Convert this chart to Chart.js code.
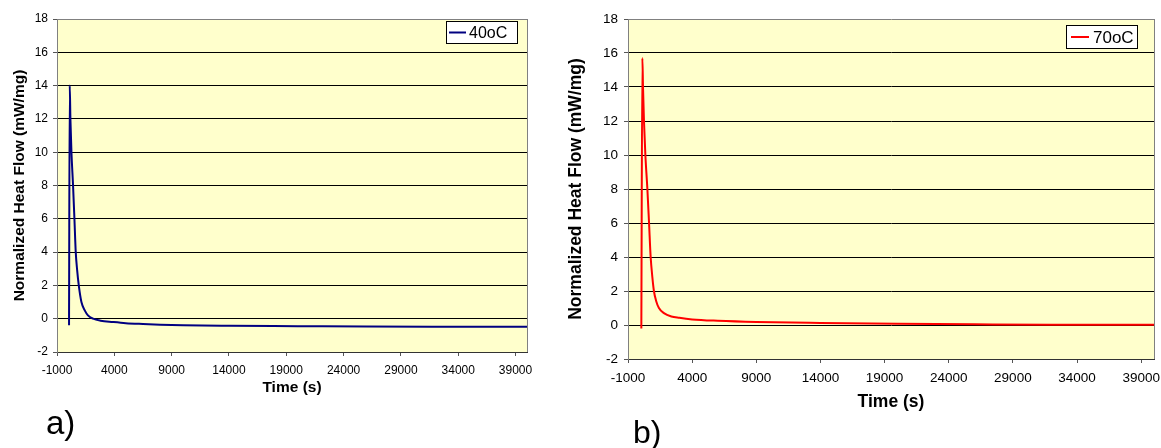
<!DOCTYPE html>
<html>
<head>
<meta charset="utf-8">
<script src="https://cdn.jsdelivr.net/npm/chart.js@4.4.0/dist/chart.umd.min.js"></script>
<style>
body { margin:0; background:#fff; width:1161px; height:448px; overflow:hidden; position:relative; font-family: Arial, "Liberation Sans", sans-serif; }
.box { position:absolute; top:0; height:448px; }
#wrapA { left:0; width:560px; }
#wrapB { left:560px; width:601px; }
.tag { position:absolute; color:#000; line-height:1; }
</style>
</head>
<body>
<div class="box" id="wrapA"><canvas id="chartA"></canvas></div>
<div class="box" id="wrapB"><canvas id="chartB"></canvas></div>
<div class="tag" style="left:46px;top:406px;font-size:33px">a)</div>
<div class="tag" style="left:633px;top:416px;font-size:32px">b)</div>
<script>
// tick labels on the time axis
var timeTicks = [-1000, 4000, 9000, 14000, 19000, 24000, 29000, 34000, 39000];

// 40oC run (time in s, heat flow in mW/mg)
var time40 = [50, 110, 170, 260, 400, 520, 635, 760, 900, 1130, 1420, 1700, 2150, 2800, 3870, 5000, 6500, 8000, 10000, 14000, 20000, 26000, 32000, 40000];
var flow40 = [-0.4, 14, 12, 10, 8, 6, 4, 2.9, 2, 1, 0.5, 0.2, 0, -0.12, -0.2, -0.27, -0.32, -0.36, -0.4, -0.43, -0.45, -0.47, -0.48, -0.48];

// 70oC run
var time70 = [40, 120, 170, 245, 354, 510, 640, 766, 900, 1020, 1200, 1410, 1800, 2380, 3000, 4000, 6000, 9000, 14000, 20000, 26000, 32000, 40000];
var flow70 = [-0.2, 15.7, 14, 12, 10, 8, 6, 4, 2.8, 2, 1.4, 1, 0.7, 0.5, 0.42, 0.33, 0.25, 0.18, 0.12, 0.07, 0.04, 0.02, 0.02];

var FONT = 'Arial, "Liberation Sans", sans-serif';

var bgPlugin = {
	id: 'bg',
	beforeDraw: function(chart) {
		var a = chart.chartArea, ctx = chart.ctx;
		ctx.save();
		ctx.fillStyle = '#FFFFCC';
		ctx.fillRect(a.left, a.top, a.right - a.left, a.bottom - a.top);
		ctx.restore();
	},
	afterDraw: function(chart) {
		var a = chart.chartArea, ctx = chart.ctx;
		ctx.save();
		ctx.strokeStyle = '#808080';
		ctx.lineWidth = 1;
		ctx.beginPath();
		ctx.moveTo(Math.round(a.right) + 0.5, a.top);
		ctx.lineTo(Math.round(a.right) + 0.5, a.bottom);
		ctx.stroke();
		ctx.restore();
	}
};

var boxLegend = {
	id: 'boxLegend',
	afterDraw: function(chart, args, o) {
		var ctx = chart.ctx, a = chart.chartArea, ds = chart.data.datasets[0];
		var x = Math.round(a.right - o.right - o.w), y = Math.round(a.top + o.top);
		ctx.save();
		ctx.fillStyle = '#fff';
		ctx.fillRect(x, y, o.w, o.h);
		ctx.strokeStyle = '#000';
		ctx.lineWidth = 1;
		ctx.strokeRect(x + 0.5, y + 0.5, o.w - 1, o.h - 1);
		ctx.strokeStyle = ds.borderColor;
		ctx.lineWidth = 2;
		ctx.beginPath();
		ctx.moveTo(x + o.lx0, y + o.h / 2);
		ctx.lineTo(x + o.lx1, y + o.h / 2);
		ctx.stroke();
		ctx.fillStyle = '#000';
		ctx.font = o.size + 'px ' + FONT;
		ctx.textBaseline = 'middle';
		ctx.fillText(ds.label, x + o.tx, y + o.h / 2 + 1);
		ctx.restore();
	}
};

function makeChart(id, times, flows, label, color, s) {
	var pts = [];
	for (var i in times) {
		pts.push({x: times[i], y: flows[i]});
	}
	return new Chart(document.getElementById(id), {
		type: 'line',
		data: {
			datasets: [{
				label: label,
				data: pts,
				borderColor: color,
				backgroundColor: color,
				borderWidth: 2,
				pointRadius: 0,
				cubicInterpolationMode: 'monotone'
			}]
		},
		plugins: [bgPlugin, boxLegend],
		options: {
			responsive: true,
			maintainAspectRatio: false,
			animation: false,
			layout: { padding: { top: 19, right: s.padRight, bottom: s.padBottom, left: 0 } },
			plugins: {
				legend: { display: false },
				tooltip: { enabled: false },
				boxLegend: s.legend
			},
			scales: {
				x: {
					type: 'linear',
					min: -1000,
					max: 40000,
					afterBuildTicks: function(scale) {
						scale.ticks = timeTicks.map(function(v) { return {value: v}; });
					},
					afterFit: function(scale) {
						scale.height = s.xHeight;
						scale.paddingLeft = 0;
						scale.paddingRight = 0;
					},
					grid: { drawOnChartArea: false, drawTicks: true, tickLength: 4, color: '#555' },
					border: { color: '#333', width: 1 },
					ticks: {
						color: '#000',
						padding: s.xPad,
						maxRotation: 0,
						autoSkip: false,
						font: { family: FONT, size: s.tick },
						callback: function(v) { return String(v); }
					},
					title: {
						display: true,
						text: 'Time (s)',
						color: '#000',
						padding: { top: 0, bottom: 0 },
						font: { family: FONT, size: s.title, weight: 'bold' }
					}
				},
				y: {
					min: -2,
					max: 18,
					ticks: {
						stepSize: 2,
						color: '#000',
						padding: s.yPad,
						font: { family: FONT, size: s.tick }
					},
					afterFit: function(scale) {
						scale.width = s.yWidth;
						scale.paddingTop = 0;
						scale.paddingBottom = 0;
					},
					grid: {
						tickLength: 4,
						color: function(c) { return c.tick && c.tick.value === 18 ? '#808080' : '#000'; },
						tickColor: '#555'
					},
					border: { color: '#808080', width: 1 },
					title: {
						display: true,
						text: 'Normalized Heat Flow (mW/mg)',
						color: '#000',
						padding: { top: s.yTitlePad, bottom: 0 },
						font: { family: FONT, size: s.title, weight: 'bold' }
					}
				}
			}
		}
	});
}

makeChart('chartA', time40, flow40, '40oC', '#000080', {
	padRight: 33, padBottom: 50.7, xHeight: 45.3, yWidth: 57,
	tick: 12, title: 15.5, xPad: 7, yPad: 5, yTitlePad: 10,
	legend: { w: 72, h: 23, right: 9, top: 2, lx0: 3, lx1: 20, tx: 23, size: 16 }
});

makeChart('chartB', time70, flow70, '70oC', '#FF0000', {
	padRight: 7, padBottom: 35.5, xHeight: 53.5, yWidth: 68,
	tick: 13.5, title: 17.5, xPad: 7, yPad: 6, yTitlePad: 5.5,
	legend: { w: 72, h: 24, right: 16, top: 6, lx0: 5, lx1: 23, tx: 27, size: 17 }
});
</script>
</body>
</html>
